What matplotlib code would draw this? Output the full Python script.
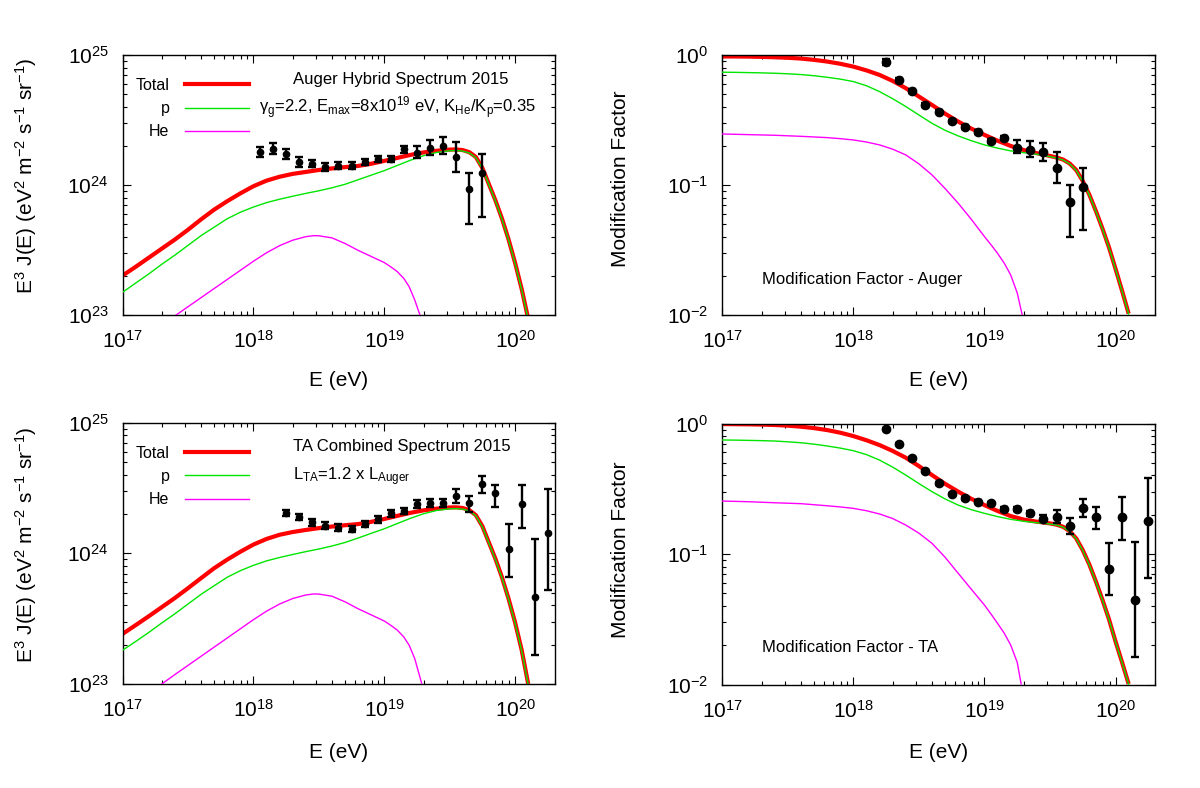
import numpy as np
import matplotlib
matplotlib.use("Agg")
import matplotlib.pyplot as plt
from matplotlib.ticker import LogLocator, LogFormatterMathtext, NullFormatter
from matplotlib.lines import Line2D

plt.rcParams['font.family'] = ['Liberation Sans', 'DejaVu Sans']
plt.rcParams['mathtext.fontset'] = 'custom'
plt.rcParams['mathtext.rm'] = 'Liberation Sans'
plt.rcParams['mathtext.it'] = 'Liberation Sans:italic'
plt.rcParams['mathtext.bf'] = 'Liberation Sans:bold'
plt.rcParams['mathtext.default'] = 'regular'

# ---------------- data: Auger hybrid spectrum 2015 (top-left) ----------------
auger_logE = [18.05, 18.15, 18.25, 18.35, 18.45, 18.55, 18.65, 18.75, 18.85,
              18.95, 19.05, 19.15, 19.25, 19.35, 19.45, 19.55, 19.65, 19.75]
auger_logJ = [24.256, 24.275, 24.236, 24.175, 24.162, 24.136, 24.148, 24.148, 24.175,
              24.200, 24.200, 24.275, 24.248, 24.282, 24.302, 24.213, 23.967, 24.095]
auger_logJ_hi = [24.295, 24.321, 24.275, 24.213, 24.190, 24.165, 24.175, 24.175, 24.200,
                 24.225, 24.225, 24.300, 24.302, 24.346, 24.372, 24.333, 24.095, 24.236]
auger_logJ_lo = [24.213, 24.236, 24.198, 24.141, 24.135, 24.108, 24.120, 24.120, 24.150,
                 24.175, 24.175, 24.244, 24.205, 24.231, 24.238, 24.098, 23.698, 23.756]

# model curves (log10 E, log10 E^3 J), top-left
spec_logE = [17.0, 17.1, 17.2, 17.3, 17.4, 17.5, 17.6, 17.7, 17.8, 17.9, 18.0, 18.1, 18.2,
             18.3, 18.4, 18.5, 18.6, 18.7, 18.8, 18.9, 19.0, 19.1, 19.2, 19.3, 19.4, 19.5,
             19.55, 19.6, 19.65, 19.7, 19.75, 19.8, 19.85, 19.9, 19.95, 20.0, 20.05, 20.1]
tl_total_logJ = [23.303, 23.370, 23.440, 23.510, 23.580, 23.655, 23.735, 23.810, 23.875, 23.935,
                 23.990, 24.033, 24.063, 24.085, 24.100, 24.115, 24.127, 24.137, 24.146, 24.163,
                 24.185, 24.208, 24.231, 24.250, 24.263, 24.272, 24.273, 24.268, 24.252, 24.215,
                 24.130, 24.005, 23.880, 23.740, 23.580, 23.400, 23.200, 22.970]
tl_p_logJ = [23.174, 23.245, 23.315, 23.390, 23.460, 23.535, 23.610, 23.675, 23.740, 23.790,
             23.830, 23.864, 23.890, 23.913, 23.935, 23.955, 23.978, 24.005, 24.040, 24.075,
             24.110, 24.150, 24.190, 24.225, 24.250, 24.263, 24.265, 24.260, 24.246, 24.210,
             24.125, 24.000, 23.875, 23.735, 23.575, 23.395, 23.195, 22.965]
tl_he_logE = [17.41, 17.5, 17.6, 17.7, 17.8, 17.9, 18.0, 18.1, 18.2, 18.3, 18.4, 18.46,
              18.5, 18.6, 18.7, 18.8, 18.9, 19.0, 19.05, 19.1, 19.15, 19.19, 19.233, 19.276]
tl_he_logJ = [23.000, 23.063, 23.133, 23.203, 23.273, 23.343, 23.413, 23.478, 23.533, 23.575,
              23.602, 23.610, 23.609, 23.593, 23.550, 23.497, 23.450, 23.403, 23.370, 23.333,
              23.280, 23.218, 23.115, 22.990]

# ---------------- data: Auger modification factor (top-right) ----------------
mfa_logE = [18.25, 18.35, 18.45, 18.55, 18.65, 18.75, 18.85, 18.95,
            19.05, 19.15, 19.25, 19.35, 19.45, 19.55, 19.65, 19.75]
mfa_val = [0.878, 0.642, 0.529, 0.412, 0.366, 0.309, 0.279, 0.256,
           0.219, 0.231, 0.191, 0.187, 0.178, 0.136, 0.0736, 0.0971]
mfa_hi = [0.930, 0.665, 0.548, 0.425, 0.378, 0.318, 0.288, 0.264,
          0.227, 0.239, 0.222, 0.219, 0.209, 0.180, 0.100, 0.136]
mfa_lo = [0.830, 0.620, 0.510, 0.400, 0.355, 0.300, 0.270, 0.248,
          0.211, 0.223, 0.175, 0.165, 0.154, 0.104, 0.0396, 0.045]

mf_logE = [17.0, 17.1, 17.2, 17.3, 17.4, 17.5, 17.6, 17.7, 17.8, 17.9, 18.0, 18.1, 18.2,
           18.3, 18.4, 18.5, 18.6, 18.7, 18.8, 18.9, 19.0, 19.1, 19.2, 19.3, 19.4, 19.5,
           19.55, 19.6, 19.65, 19.7, 19.75, 19.8, 19.85, 19.9, 19.95, 20.0, 20.05, 20.1]
tr_total_logM = [-0.012, -0.012, -0.013, -0.015, -0.018, -0.022, -0.028, -0.038, -0.051, -0.068,
                 -0.090, -0.119, -0.154, -0.200, -0.256, -0.320, -0.385, -0.452, -0.513, -0.567,
                 -0.615, -0.660, -0.700, -0.732, -0.756, -0.777, -0.789, -0.805, -0.835, -0.885,
                 -0.970, -1.075, -1.200, -1.335, -1.480, -1.645, -1.815, -1.990]
tr_p_logM = [-0.133, -0.134, -0.136, -0.138, -0.141, -0.145, -0.151, -0.160, -0.172, -0.186,
             -0.205, -0.237, -0.282, -0.337, -0.397, -0.462, -0.526, -0.580, -0.623, -0.660,
             -0.692, -0.717, -0.738, -0.752, -0.764, -0.782, -0.793, -0.808, -0.838, -0.888,
             -0.973, -1.078, -1.203, -1.338, -1.483, -1.648, -1.818, -1.993]
tr_he_logE = [17.0, 17.2, 17.4, 17.6, 17.8, 17.9, 18.0, 18.1, 18.2, 18.3, 18.4, 18.5, 18.6,
              18.7, 18.8, 18.9, 19.0, 19.05, 19.1, 19.15, 19.2, 19.25, 19.288]
tr_he_logM = [-0.608, -0.613, -0.618, -0.626, -0.636, -0.644, -0.654, -0.670, -0.692, -0.725,
              -0.769, -0.838, -0.923, -1.028, -1.141, -1.265, -1.397, -1.460, -1.526, -1.600,
              -1.692, -1.830, -2.000]

# ---------------- data: TA combined spectrum 2015 (bottom-left) ----------------
ta_logE = [18.25, 18.35, 18.45, 18.55, 18.65, 18.75, 18.85, 18.95, 19.05, 19.15, 19.25,
           19.35, 19.45, 19.55, 19.65, 19.75, 19.85, 19.95, 20.05, 20.15, 20.25]
ta_logJ = [24.311, 24.276, 24.237, 24.212, 24.197, 24.186, 24.225, 24.260, 24.306, 24.324, 24.375,
           24.388, 24.383, 24.439, 24.388, 24.531, 24.459, 24.031, 24.378, 23.663, 24.158]
ta_logJ_hi = [24.335, 24.300, 24.260, 24.237, 24.222, 24.211, 24.250, 24.285, 24.331, 24.350, 24.405,
              24.418, 24.413, 24.490, 24.439, 24.595, 24.523, 24.222, 24.523, 24.107, 24.493]
ta_logJ_lo = [24.287, 24.252, 24.213, 24.187, 24.172, 24.161, 24.200, 24.235, 24.281, 24.298, 24.345,
              24.358, 24.353, 24.383, 24.319, 24.464, 24.352, 23.822, 24.192, 23.222, 23.719]

bl_total_logJ = [23.383, 23.450, 23.518, 23.588, 23.658, 23.733, 23.810, 23.886, 23.952, 24.012,
                 24.067, 24.110, 24.142, 24.163, 24.179, 24.193, 24.205, 24.215, 24.224, 24.241,
                 24.263, 24.287, 24.310, 24.329, 24.342, 24.351, 24.352, 24.347, 24.331, 24.292,
                 24.207, 24.082, 23.957, 23.815, 23.652, 23.470, 23.260, 23.000]
bl_p_logJ = [23.258, 23.325, 23.394, 23.467, 23.537, 23.612, 23.686, 23.752, 23.817, 23.867,
             23.908, 23.942, 23.968, 23.991, 24.013, 24.033, 24.056, 24.083, 24.117, 24.153,
             24.188, 24.228, 24.268, 24.303, 24.328, 24.341, 24.343, 24.338, 24.325, 24.287,
             24.202, 24.077, 23.952, 23.810, 23.647, 23.465, 23.255, 22.995]
bl_he_logE = [17.30, 17.41, 17.5, 17.6, 17.7, 17.8, 17.9, 18.0, 18.1, 18.2, 18.3, 18.4,
              18.46, 18.5, 18.6, 18.7, 18.8, 18.9, 19.0, 19.05, 19.1, 19.15, 19.19, 19.233, 19.29]
bl_he_logJ = [23.000, 23.079, 23.142, 23.212, 23.282, 23.352, 23.422, 23.492, 23.557, 23.612,
              23.654, 23.681, 23.689, 23.688, 23.672, 23.629, 23.576, 23.529, 23.482, 23.449,
              23.412, 23.359, 23.297, 23.194, 22.990]

# ---------------- data: TA modification factor (bottom-right) ----------------
mft_logE = ta_logE
mft_val = [0.908, 0.697, 0.541, 0.433, 0.348, 0.288, 0.267, 0.252, 0.245, 0.221, 0.222,
           0.205, 0.187, 0.193, 0.165, 0.224, 0.193, 0.0767, 0.191, 0.0444, 0.178]
mft_hi = [0.930, 0.715, 0.555, 0.444, 0.357, 0.295, 0.274, 0.258, 0.252, 0.228, 0.229,
          0.214, 0.199, 0.217, 0.188, 0.262, 0.230, 0.121, 0.272, 0.124, 0.385]
mft_lo = [0.886, 0.680, 0.527, 0.422, 0.339, 0.281, 0.260, 0.246, 0.238, 0.214, 0.215,
          0.196, 0.178, 0.172, 0.142, 0.191, 0.155, 0.0485, 0.127, 0.0162, 0.0651]

br_total_logM = [-0.004, -0.005, -0.006, -0.008, -0.011, -0.016, -0.024, -0.035, -0.050, -0.070,
                 -0.096, -0.128, -0.165, -0.210, -0.262, -0.326, -0.395, -0.462, -0.522, -0.577,
                 -0.625, -0.670, -0.709, -0.736, -0.752, -0.765, -0.775, -0.791, -0.825, -0.880,
                 -0.970, -1.080, -1.210, -1.350, -1.500, -1.670, -1.830, -1.996]
br_p_logM = [-0.126, -0.127, -0.129, -0.131, -0.134, -0.140, -0.147, -0.158, -0.172, -0.188,
             -0.208, -0.238, -0.280, -0.334, -0.395, -0.460, -0.522, -0.578, -0.625, -0.660,
             -0.688, -0.713, -0.734, -0.749, -0.760, -0.770, -0.778, -0.794, -0.828, -0.883,
             -0.973, -1.083, -1.213, -1.353, -1.503, -1.673, -1.833, -1.999]
br_he_logE = [17.0, 17.2, 17.4, 17.6, 17.8, 17.9, 18.0, 18.1, 18.2, 18.3, 18.4, 18.5, 18.6,
              18.7, 18.8, 18.9, 19.0, 19.05, 19.1, 19.15, 19.2, 19.25, 19.28]
br_he_logM = [-0.594, -0.599, -0.607, -0.614, -0.630, -0.639, -0.650, -0.668, -0.693, -0.728,
              -0.778, -0.840, -0.918, -1.025, -1.148, -1.270, -1.391, -1.460, -1.531, -1.605,
              -1.697, -1.830, -1.996]

RED = '#ff0000'
GREEN = '#00e600'
MAGENTA = '#ff00ff'
FS_TICK = 15
FS_TEXT = 12
LW_TOTAL = 3.0


def p10(a):
    return 10.0 ** np.asarray(a, dtype=float)


def style_axes(ax, ylim):
    ax.set_xscale('log')
    ax.set_yscale('log')
    ax.set_xlim(1e17, 2e20)
    ax.set_ylim(*ylim)
    for axis in (ax.xaxis, ax.yaxis):
        axis.set_major_locator(LogLocator(base=10, numticks=12))
        axis.set_minor_locator(LogLocator(base=10, subs=np.arange(2, 10), numticks=40))
        axis.set_major_formatter(LogFormatterMathtext())
        axis.set_minor_formatter(NullFormatter())
    ax.tick_params(which='both', direction='in', top=True, right=True, width=0.8)
    ax.tick_params(which='major', length=6)
    ax.tick_params(which='minor', length=3)
    ax.tick_params(axis='x', which='major', labelsize=FS_TICK, pad=11)
    ax.tick_params(axis='y', which='major', labelsize=FS_TICK, pad=10)
    for s in ax.spines.values():
        s.set_linewidth(1.0)


def draw_curves(ax, tot_x, tot_y, p_x, p_y, he_x, he_y):
    ax.plot(tot_x, tot_y, color=RED, lw=LW_TOTAL, zorder=2, solid_capstyle='butt')
    ax.plot(p_x, p_y, color=GREEN, lw=1.0, zorder=3)
    ax.plot(he_x, he_y, color=MAGENTA, lw=1.0, zorder=3)


def draw_points(ax, x, y, lo, hi, ms):
    y = np.asarray(y, dtype=float)
    lo = np.asarray(lo, dtype=float)
    hi = np.asarray(hi, dtype=float)
    ax.errorbar(x, y, yerr=[y - lo, hi - y], fmt='o', color='black', ms=ms,
                elinewidth=1.7, capsize=2.6, capthick=1.7, zorder=5)


def add_legend(ax):
    handles = [Line2D([], [], color=RED, lw=LW_TOTAL),
               Line2D([], [], color=GREEN, lw=1.0),
               Line2D([], [], color=MAGENTA, lw=1.0)]
    ax.legend(handles, ['Total', 'p', 'He'], loc='upper left',
              bbox_to_anchor=(0.03, 0.912), frameon=False, markerfirst=False,
              fontsize=11.5, handlelength=4.0, handletextpad=1.0,
              labelspacing=0.52, borderpad=0, borderaxespad=0)


fig = plt.figure(figsize=(12, 7.88), dpi=100)
ax_tl = fig.add_axes([0.1021, 0.6003, 0.3600, 0.3300])
ax_tr = fig.add_axes([0.6019, 0.6003, 0.3606, 0.3300])
ax_bl = fig.add_axes([0.1021, 0.1320, 0.3600, 0.3316])
ax_br = fig.add_axes([0.6019, 0.1313, 0.3606, 0.3312])

# top-left
style_axes(ax_tl, (1e23, 1e25))
draw_curves(ax_tl, p10(spec_logE), p10(tl_total_logJ), p10(spec_logE), p10(tl_p_logJ),
            p10(tl_he_logE), p10(tl_he_logJ))
draw_points(ax_tl, p10(auger_logE), p10(auger_logJ), p10(auger_logJ_lo), p10(auger_logJ_hi), 4.5)
add_legend(ax_tl)
ax_tl.text(0.395, 0.8885, 'Auger Hybrid Spectrum 2015', transform=ax_tl.transAxes,
           fontsize=FS_TEXT, ha='left', va='baseline')
ax_tl.text(0.316, 0.776, r'$\gamma_g$=2.2, E$_{max}$=8x10$^{19}$ eV, K$_{He}$/K$_p$=0.35',
           transform=ax_tl.transAxes, fontsize=FS_TEXT, ha='left', va='baseline')

# top-right
style_axes(ax_tr, (1e-2, 1.0))
draw_curves(ax_tr, p10(mf_logE), p10(tr_total_logM), p10(mf_logE), p10(tr_p_logM),
            p10(tr_he_logE), p10(tr_he_logM))
draw_points(ax_tr, p10(mfa_logE), mfa_val, mfa_lo, mfa_hi, 6.0)
ax_tr.text(0.0925, 0.119, 'Modification Factor - Auger', transform=ax_tr.transAxes,
           fontsize=FS_TEXT, ha='left', va='baseline')

# bottom-left
style_axes(ax_bl, (1e23, 1e25))
draw_curves(ax_bl, p10(spec_logE), p10(bl_total_logJ), p10(spec_logE), p10(bl_p_logJ),
            p10(bl_he_logE), p10(bl_he_logJ))
draw_points(ax_bl, p10(ta_logE), p10(ta_logJ), p10(ta_logJ_lo), p10(ta_logJ_hi), 4.5)
add_legend(ax_bl)
ax_bl.text(0.395, 0.893, 'TA Combined Spectrum 2015', transform=ax_bl.transAxes,
           fontsize=FS_TEXT, ha='left', va='baseline')
ax_bl.text(0.395, 0.781, r'L$_{TA}$=1.2 x L$_{Auger}$', transform=ax_bl.transAxes,
           fontsize=FS_TEXT, ha='left', va='baseline')

# bottom-right
style_axes(ax_br, (1e-2, 1.0))
draw_curves(ax_br, p10(mf_logE), p10(br_total_logM), p10(mf_logE), p10(br_p_logM),
            p10(br_he_logE), p10(br_he_logM))
draw_points(ax_br, p10(mft_logE), mft_val, mft_lo, mft_hi, 6.0)
ax_br.text(0.0925, 0.123, 'Modification Factor - TA', transform=ax_br.transAxes,
           fontsize=FS_TEXT, ha='left', va='baseline')

# axis labels
ylab = r'E$^3$ J(E) (eV$^2$ m$^{-2}$ s$^{-1}$ sr$^{-1}$)'
fig.text(26 / 1200, 1 - 176 / 788, ylab, rotation=90, ha='center', va='center', fontsize=FS_TICK)
fig.text(26 / 1200, 1 - 545 / 788, ylab, rotation=90, ha='center', va='center', fontsize=FS_TICK)
fig.text(620.5 / 1200, 1 - 179 / 788, 'Modification Factor', rotation=90, ha='center', va='center',
         fontsize=FS_TICK)
fig.text(620.5 / 1200, 1 - 550 / 788, 'Modification Factor', rotation=90, ha='center', va='center',
         fontsize=FS_TICK)
for xc in (338.5 / 1200, 938.7 / 1200):
    fig.text(xc, 1 - 380 / 788, 'E (eV)', ha='center', va='center', fontsize=FS_TICK)
    fig.text(xc, 1 - 752 / 788, 'E (eV)', ha='center', va='center', fontsize=FS_TICK)

fig.savefig('out.png', dpi=100)
